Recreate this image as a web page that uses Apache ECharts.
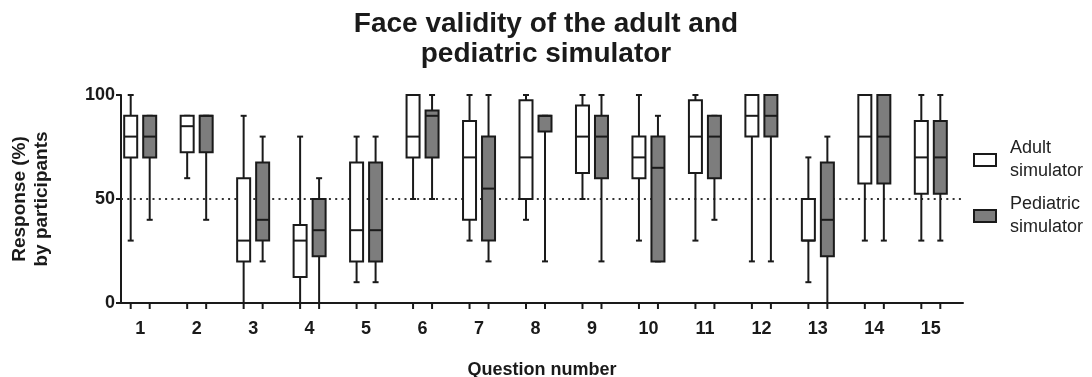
<!DOCTYPE html>
<html>
<head>
<meta charset="utf-8">
<script src="https://cdn.jsdelivr.net/npm/echarts@6/dist/echarts.min.js"></script>
<style>
html,body{margin:0;padding:0;background:#fff;}
#chart{width:1092px;height:377px;}
</style>
</head>
<body>
<div id="chart"></div>
<script>
// Question numbers
const questions = [1,2,3,4,5,6,7,8,9,10,11,12,13,14,15];
// Box stats per question: [min, Q1, median, Q3, max]
const adultStats = [
  [30,70,80,90,100],
  [60,72.5,85,90,90],
  [0,20,30,60,90],
  [0,12.5,30,37.5,80],
  [10,20,35,67.5,80],
  [50,70,80,100,100],
  [30,40,70,87.5,100],
  [40,50,70,97.5,100],
  [50,62.5,80,95,100],
  [30,60,70,80,100],
  [30,62.5,80,97.5,100],
  [20,80,90,100,100],
  [10,30,30,50,70],
  [30,57.5,80,100,100],
  [30,52.5,70,87.5,100]
];
const pediatricStats = [
  [40,70,80,90,90],
  [40,72.5,90,90,90],
  [20,30,40,67.5,80],
  [0,22.5,35,50,60],
  [10,20,35,67.5,80],
  [50,70,90,92.5,100],
  [20,30,55,80,100],
  [20,82.5,90,90,90],
  [20,60,80,90,100],
  [20,20,65,80,90],
  [40,60,80,90,90],
  [20,80,90,100,100],
  [0,22.5,40,67.5,80],
  [30,57.5,80,100,100],
  [30,52.5,70,87.5,100]
];
const seriesNames = ['Adult simulator', 'Pediatric simulator'];
const referenceLine = 50;
const yTicks = [0, 50, 100];

const FONT = '"Liberation Sans", Arial, sans-serif';
const INK = '#1a1a1a';

function makeRender(offset, fill) {
  return function (params, api) {
    const q = api.value(0);
    const pMin = api.coord([q, api.value(1)]);
    const pQ1 = api.coord([q, api.value(2)]);
    const pMed = api.coord([q, api.value(3)]);
    const pQ3 = api.coord([q, api.value(4)]);
    const pMax = api.coord([q, api.value(5)]);
    const p0 = api.coord([q, 0]);
    const cx = pMin[0] + offset;
    const bw = 13, cap = 3;
    const ls = {stroke: INK, lineWidth: 2};
    return {
      type: 'group',
      children: [
        {type: 'line', shape: {x1: cx, y1: pMin[1], x2: cx, y2: pMax[1]}, style: ls},
        {type: 'line', shape: {x1: cx - cap, y1: pMin[1], x2: cx + cap, y2: pMin[1]}, style: ls},
        {type: 'line', shape: {x1: cx - cap, y1: pMax[1], x2: cx + cap, y2: pMax[1]}, style: ls},
        {type: 'rect', shape: {x: cx - bw / 2, y: pQ3[1], width: bw, height: pQ1[1] - pQ3[1]},
          style: {fill: fill, stroke: INK, lineWidth: 2}},
        {type: 'line', shape: {x1: cx - bw / 2, y1: pMed[1], x2: cx + bw / 2, y2: pMed[1]}, style: ls},
        {type: 'line', shape: {x1: cx, y1: p0[1], x2: cx, y2: p0[1] + 6}, style: ls}
      ]
    };
  };
}

const adultData = questions.map((q, i) => [q].concat(adultStats[i]));
const pedData = questions.map((q, i) => [q].concat(pediatricStats[i]));

const chart = echarts.init(document.getElementById('chart'), null, {renderer: 'canvas'});
chart.setOption({
  animation: false,
  backgroundColor: '#fff',
  title: {
    text: 'Face validity of the adult and\npediatric simulator',
    left: 'center',
    top: 9,
    padding: 0,
    textStyle: {fontFamily: FONT, fontSize: 28, fontWeight: 'bold', color: INK, lineHeight: 30}
  },
  legend: {
    orient: 'vertical',
    left: 968,
    top: 132,
    itemWidth: 22,
    itemHeight: 12,
    itemGap: 10,
    selectedMode: false,
    icon: 'rect',
    formatter: n => n.replace(' ', '\n'),
    textStyle: {fontFamily: FONT, fontSize: 18, color: '#222', lineHeight: 23, padding: [0, 0, 0, 9]},
    data: [
      {name: seriesNames[0], itemStyle: {color: '#fff', borderColor: INK, borderWidth: 2}},
      {name: seriesNames[1], itemStyle: {color: '#7d7d7d', borderColor: INK, borderWidth: 2}}
    ]
  },
  grid: {left: 121, right: 129, top: 95, bottom: 74, containLabel: false, outerBoundsMode: 'none'},
  xAxis: {
    type: 'value',
    min: 0.66,
    max: 15.57,
    minInterval: 1,
    maxInterval: 1,
    name: 'Question number',
    nameLocation: 'middle',
    nameGap: 58,
    nameTextStyle: {fontFamily: FONT, fontSize: 18, fontWeight: 'bold', color: INK},
    axisLine: {show: true, lineStyle: {color: INK, width: 2}},
    axisTick: {show: false},
    splitLine: {show: false},
    axisLabel: {
      margin: 17,
      fontFamily: FONT, fontSize: 18, fontWeight: 'bold', color: INK,
      formatter: v => (Number.isInteger(v) && questions.indexOf(v) >= 0) ? String(v) : ''
    }
  },
  yAxis: {
    type: 'value',
    min: yTicks[0],
    max: yTicks[yTicks.length - 1],
    interval: 50,
    name: 'Response (%)\nby participants',
    nameLocation: 'middle',
    nameRotate: 90,
    nameGap: 68,
    nameTextStyle: {fontFamily: FONT, fontSize: 19, fontWeight: 'bold', color: INK, lineHeight: 22},
    axisLine: {show: true, lineStyle: {color: INK, width: 2}},
    axisTick: {show: true, length: 5, lineStyle: {color: INK, width: 2}},
    splitLine: {show: false},
    axisLabel: {margin: 6, fontFamily: FONT, fontSize: 18, fontWeight: 'bold', color: INK}
  },
  series: [
    {
      name: seriesNames[0],
      type: 'custom',
      clip: false,
      itemStyle: {color: '#fff', borderColor: INK, borderWidth: 2},
      renderItem: makeRender(-9.5, '#ffffff'),
      encode: {x: 0, y: [1, 2, 3, 4, 5]},
      data: adultData,
      z: 3,
      markLine: {
        silent: true,
        symbol: 'none',
        label: {show: false},
        lineStyle: {color: '#333', width: 2, type: [2, 4.3]},
        data: [{yAxis: referenceLine}],
        z: 1
      }
    },
    {
      name: seriesNames[1],
      type: 'custom',
      clip: false,
      itemStyle: {color: '#7d7d7d', borderColor: INK, borderWidth: 2},
      renderItem: makeRender(9.5, '#7d7d7d'),
      encode: {x: 0, y: [1, 2, 3, 4, 5]},
      data: pedData,
      z: 3
    }
  ]
});
</script>
</body>
</html>
